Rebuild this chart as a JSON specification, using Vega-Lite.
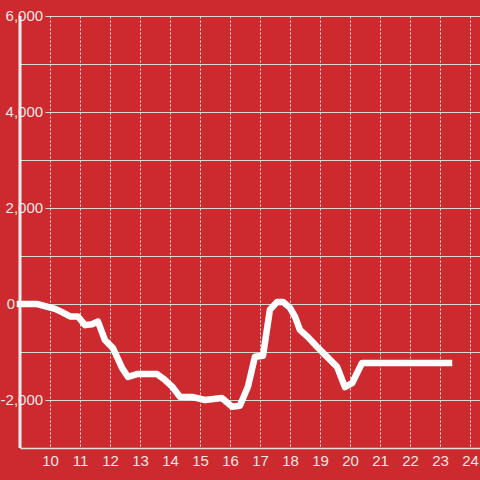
{
  "$schema": "https://vega.github.io/schema/vega-lite/v6.json",
  "width": 460,
  "height": 432,
  "autosize": {"type": "none"},
  "padding": {"left": 20, "top": 16, "right": 0, "bottom": 32},
  "background": "#cc2a2f",
  "config": {
    "view": {"stroke": null},
    "font": "Liberation Sans",
    "axisX": {
      "values": [9, 10, 11, 12, 13, 14, 15, 16, 17, 18, 19, 20, 21, 22, 23, 24],
      "labelExpr": "datum.value == 9 ? '' : datum.label",
      "ticks": false,
      "domainColor": "#dddddd", "domainWidth": 1.5,
      "labelColor": "#f5e5e5", "labelFontSize": 15, "labelPadding": 5,
      "labelFont": "Liberation Sans",
      "grid": true, "gridColor": "#f0f0f0", "gridDash": [2, 2], "gridWidth": 1,
      "labelFlush": false, "labelOverlap": false
    },
    "axisY": {
      "values": [-3000, -2000, -1000, 0, 1000, 2000, 3000, 4000, 5000, 6000],
      "labels": false, "ticks": false, "domain": false,
      "grid": true, "gridColor": "#d8d8d8", "gridWidth": 1
    }
  },
  "datasets": {
    "series": [
      {"t": 9.0, "v": 0}, {"t": 9.57, "v": 0}, {"t": 10.17, "v": -100}, {"t": 10.4, "v": -170},
      {"t": 10.67, "v": -260}, {"t": 10.93, "v": -260}, {"t": 11.17, "v": -440}, {"t": 11.4, "v": -420},
      {"t": 11.6, "v": -365}, {"t": 11.83, "v": -750}, {"t": 12.1, "v": -920}, {"t": 12.4, "v": -1330},
      {"t": 12.6, "v": -1520}, {"t": 12.9, "v": -1460}, {"t": 13.57, "v": -1460}, {"t": 13.83, "v": -1580},
      {"t": 14.07, "v": -1720}, {"t": 14.33, "v": -1930}, {"t": 14.77, "v": -1940}, {"t": 15.17, "v": -2000},
      {"t": 15.73, "v": -1960}, {"t": 16.07, "v": -2140}, {"t": 16.33, "v": -2120}, {"t": 16.6, "v": -1720},
      {"t": 16.83, "v": -1100}, {"t": 17.1, "v": -1080}, {"t": 17.33, "v": -120}, {"t": 17.57, "v": 40},
      {"t": 17.77, "v": 40}, {"t": 18.0, "v": -80}, {"t": 18.17, "v": -270}, {"t": 18.33, "v": -540},
      {"t": 18.6, "v": -690}, {"t": 18.9, "v": -890}, {"t": 19.17, "v": -1060}, {"t": 19.57, "v": -1310},
      {"t": 19.83, "v": -1730}, {"t": 20.07, "v": -1650}, {"t": 20.4, "v": -1230}, {"t": 23.3, "v": -1230}
    ],
    "yticks": [
      {"v": 6000, "label": "6,000"},
      {"v": 4000, "label": "4,000"},
      {"v": 2000, "label": "2,000"},
      {"v": 0, "label": "0"},
      {"v": -2000, "label": "-2,000"}
    ],
    "yaxisline": [{"t": 9}]
  },
  "layer": [
    {
      "data": {"name": "yticks"},
      "transform": [{"filter": "datum.v != 0"}],
      "mark": {"type": "text", "align": "right", "baseline": "middle", "fontSize": 15, "font": "Liberation Sans",
               "fill": "#cc2a2f", "stroke": "#cc2a2f", "strokeWidth": 6, "strokeJoin": "miter"},
      "encoding": {
        "x": {"datum": 9.77, "type": "quantitative", "title": null, "scale": {"domain": [9, 24.333], "nice": false, "zero": false}},
        "y": {"field": "v", "type": "quantitative", "title": null, "scale": {"domain": [-3000, 6000], "nice": false, "zero": false}},
        "text": {"field": "label"}
      }
    },
    {
      "data": {"name": "yaxisline"},
      "mark": {"type": "rule", "color": "#f5f0f0", "strokeWidth": 3},
      "encoding": {
        "x": {"field": "t", "type": "quantitative", "title": null}
      }
    },
    {
      "mark": {"type": "rule", "color": "#f8f4f4", "strokeWidth": 3.5},
      "encoding": {
        "y": {"datum": 0, "type": "quantitative", "title": null}
      }
    },
    {
      "data": {"name": "series"},
      "mark": {"type": "line", "color": "#ffffff", "strokeWidth": 6.5, "strokeJoin": "round", "strokeCap": "square"},
      "encoding": {
        "x": {"field": "t", "type": "quantitative", "title": null},
        "y": {"field": "v", "type": "quantitative", "title": null}
      }
    },
    {
      "data": {"name": "yticks"},
      "transform": [{"filter": "datum.v != 0"}],
      "mark": {"type": "text", "align": "right", "baseline": "middle", "fontSize": 15, "font": "Liberation Sans",
               "fill": "#f5e5e5"},
      "encoding": {
        "x": {"datum": 9.77, "type": "quantitative", "title": null},
        "y": {"field": "v", "type": "quantitative", "title": null},
        "text": {"field": "label"}
      }
    },
    {
      "data": {"name": "yticks"},
      "transform": [{"filter": "datum.v == 0"}],
      "mark": {"type": "text", "align": "right", "baseline": "middle", "fontSize": 15, "font": "Liberation Sans",
               "fill": "#f5e5e5"},
      "encoding": {
        "x": {"datum": 8.84, "type": "quantitative", "title": null},
        "y": {"field": "v", "type": "quantitative", "title": null},
        "text": {"field": "label"}
      }
    }
  ]
}
